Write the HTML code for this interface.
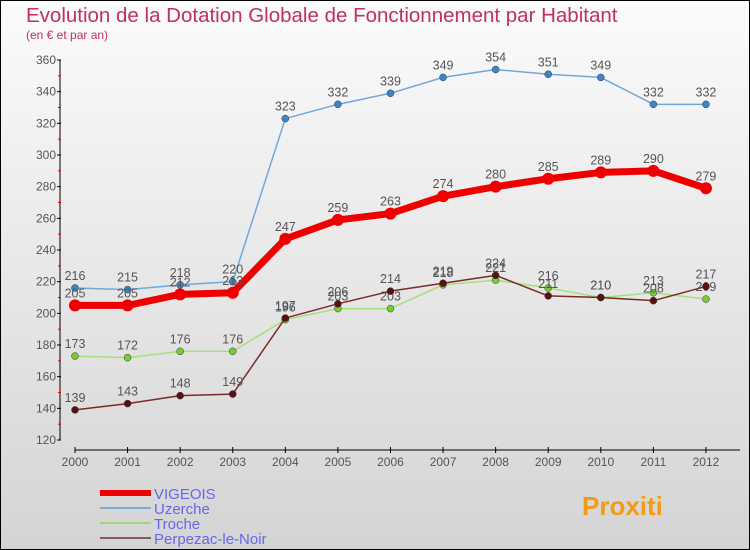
<!DOCTYPE html>
<html><head><meta charset="utf-8"><style>
body{margin:0;width:750px;height:550px;overflow:hidden}
svg{display:block;font-family:"Liberation Sans","DejaVu Sans",sans-serif}
</style></head><body>
<svg id="c" width="750" height="550" xmlns="http://www.w3.org/2000/svg">
<defs><linearGradient id="bg" x1="0" y1="0" x2="0" y2="1"><stop offset="0" stop-color="#fbfbfb"/><stop offset="1" stop-color="#d4d4d4"/></linearGradient></defs>
<rect x="0.5" y="0.5" width="749" height="549" fill="url(#bg)" stroke="#000"/>
<text x="26" y="22" font-size="20.5" fill="#c0305e">Evolution de la Dotation Globale de Fonctionnement par Habitant</text>
<text x="26" y="39" font-size="12" fill="#c0305e">(en € et par an)</text>
<g id="axes"></g><g id="series"></g><g id="legend"></g>
</svg>
<script>
const years=[2000,2001,2002,2003,2004,2005,2006,2007,2008,2009,2010,2011,2012];
const yTicks=[120,140,160,180,200,220,240,260,280,300,320,340,360];
const vigeois=[205,205,212,213,247,259,263,274,280,285,289,290,279];
const uzerche=[216,215,218,220,323,332,339,349,354,351,349,332,332];
const troche=[173,172,176,176,196,203,203,218,221,216,210,213,209];
const perpezac=[139,143,148,149,197,206,214,219,224,211,210,208,217];
const NS="http://www.w3.org/2000/svg";
function X(i){return 75+i*52.58;}
function Y(v){return 60+(360-v)*380/240;}
function mk(p,t,a){const e=document.createElementNS(NS,t);for(const k in a)e.setAttribute(k,a[k]);p.appendChild(e);return e;}
const ax=document.getElementById('axes');
let l=mk(ax,'line',{x1:60,y1:60,x2:60,y2:440,stroke:'#000'});


yTicks.forEach(v=>{
 const t=mk(ax,'text',{x:56,y:Y(v)+4,'font-size':12,'text-anchor':'end',fill:'#555'});t.textContent=v;
 
 
 mk(ax,'line',{x1:57,x2:61,y1:Y(v),y2:Y(v),stroke:'#000'});
 if(v<360)mk(ax,'line',{x1:58,x2:61,y1:Y(v+10),y2:Y(v+10),stroke:'#e00'});
});
l=mk(ax,'line',{x1:75,y1:450,x2:740,y2:450,stroke:'#000'});


years.forEach((y,i)=>{
 mk(ax,'line',{x1:X(i),x2:X(i),y1:447,y2:453,stroke:'#000'});
 const t=mk(ax,'text',{x:X(i),y:466,'font-size':12,'text-anchor':'middle',fill:'#555'});t.textContent=y;
 
 
});
const sg=document.getElementById('series');
const defs=[
 {n:'uzerche',d:uzerche,c:'#6fa8dc',dot:'#3d85c6',w:1.5,r:3.5},
 {n:'troche',d:troche,c:'#a6e07a',dot:'#77cc33',w:1.5,r:3.5},
 {n:'perpezac',d:perpezac,c:'#7a2a2a',dot:'#5a1010',w:1.5,r:3.5},
 {n:'vigeois',d:vigeois,c:'#ee0000',dot:'#ee0000',w:7,r:6}];
defs.forEach(s=>{
 const p=mk(sg,'polyline',{points:s.d.map((v,i)=>X(i)+','+Y(v)).join(' '),fill:'none',stroke:s.c,'stroke-width':s.w,'stroke-linejoin':'round'});
 
 
 s.d.forEach((v,i)=>{
  const c=mk(sg,'circle',{cx:X(i),cy:Y(v),r:s.r,fill:s.dot,stroke:s.n=='vigeois'?'none':'#333','stroke-width':0.5});
  
  
  const t=mk(sg,'text',{x:X(i),y:Y(v)-8,'font-size':12.5,'text-anchor':'middle',fill:'#555'});t.textContent=v;
  
  
 });
});
const lg=document.getElementById('legend');
[['VIGEOIS','#ee0000',6],['Uzerche','#7aaed6',2],['Troche','#9fd87a',2],['Perpezac-le-Noir','#8a5a5a',2]].forEach((e,i)=>{
 const y=493+i*15;
 const ln=mk(lg,'line',{x1:100,x2:151,y1:y,y2:y,stroke:e[1],'stroke-width':e[2]});
 
 
 const t=mk(lg,'text',{x:154,y:y+6,'font-size':15,fill:'#6666ee'});t.textContent=e[0];
 
 
});
const b=mk(lg,'text',{x:582,y:515,'font-size':26,'font-weight':'bold',fill:'#f39c12'});b.textContent='Proxiti';


</script>
</body></html>
